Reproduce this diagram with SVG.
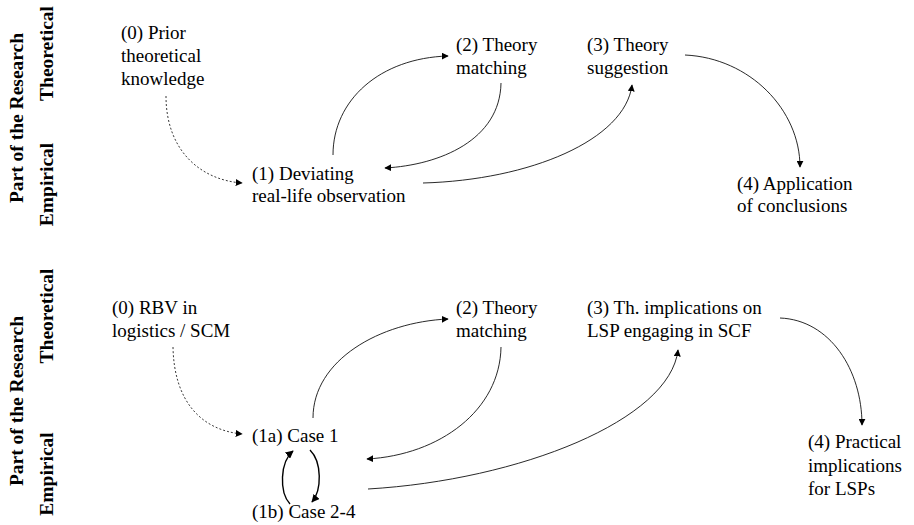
<svg xmlns="http://www.w3.org/2000/svg" width="914" height="525" viewBox="0 0 914 525">
<style>
.t{font-family:"Liberation Serif","Times New Roman",serif;font-size:19px;fill:#000}
.b{font-family:"Liberation Serif","Times New Roman",serif;font-size:19.5px;font-weight:bold;fill:#000}
.c{fill:none;stroke:#111;stroke-width:0.9}
.d{fill:none;stroke:#222;stroke-width:0.9;stroke-dasharray:2 2}
.k{fill:none;stroke:#000;stroke-width:1.4}
</style>
<defs>
<marker id="ah" viewBox="0 0 10 10" refX="9" refY="5" markerWidth="7" markerHeight="7" markerUnits="userSpaceOnUse" orient="auto">
<path d="M0,0 L10,5 L0,10 Z" fill="#000"/>
</marker>
<marker id="ah2" viewBox="0 0 10 10" refX="9" refY="5" markerWidth="8" markerHeight="8" markerUnits="userSpaceOnUse" orient="auto">
<path d="M0,0 L10,5 L0,10 Z" fill="#000"/>
</marker>
</defs>
<rect width="914" height="525" fill="#fff"/>
<g id="axis-top">
<text class="b" text-anchor="middle" transform="translate(23,118) rotate(-90)">Part of the Research</text>
<text class="b" text-anchor="middle" transform="translate(53,53.5) rotate(-90)">Theoretical</text>
<text class="b" text-anchor="middle" transform="translate(53,184.5) rotate(-90)">Empirical</text>
</g>
<g id="axis-bottom">
<text class="b" text-anchor="middle" transform="translate(23,401) rotate(-90)">Part of the Research</text>
<text class="b" text-anchor="middle" transform="translate(53,316) rotate(-90)">Theoretical</text>
<text class="b" text-anchor="middle" transform="translate(53,474) rotate(-90)">Empirical</text>
</g>
<g id="n0-top"><text class="t" x="121" y="39">(0) Prior<tspan x="121" y="62">theoretical</tspan><tspan x="121" y="85">knowledge</tspan></text></g>
<g id="n1-top"><text class="t" x="252" y="180">(1) Deviating<tspan x="252" y="202">real-life observation</tspan></text></g>
<g id="n2-top"><text class="t" x="456" y="51">(2) Theory<tspan x="456" y="74">matching</tspan></text></g>
<g id="n3-top"><text class="t" x="587" y="51">(3) Theory<tspan x="587" y="74">suggestion</tspan></text></g>
<g id="n4-top"><text class="t" x="737" y="190">(4) Application<tspan x="737" y="212">of conclusions</tspan></text></g>
<g id="n0-bot"><text class="t" x="112" y="314">(0) RBV in<tspan x="112" y="337">logistics / SCM</tspan></text></g>
<g id="n1a-bot"><text class="t" x="252" y="442">(1a) Case 1</text></g>
<g id="n1b-bot"><text class="t" x="252" y="518">(1b) Case 2-4</text></g>
<g id="n2-bot"><text class="t" x="456" y="314">(2) Theory<tspan x="456" y="337">matching</tspan></text></g>
<g id="n3-bot"><text class="t" x="587" y="314">(3) Th. implications on<tspan x="587" y="337">LSP engaging in SCF</tspan></text></g>
<g id="n4-bot"><text class="t" x="808" y="448">(4) Practical<tspan x="808" y="472">implications</tspan><tspan x="808" y="495">for LSPs</tspan></text></g>
<g id="connectors">
<path class="d" d="M166,96 C166,150 200,180 242,183" marker-end="url(#ah)"/>
<path class="c" d="M333,155 C333,100 380,58 448,56" marker-end="url(#ah)"/>
<path class="c" d="M501,83 C500,140 440,165 385,168" marker-end="url(#ah)"/>
<path class="c" d="M423,183 C530,180 625,140 632,85" marker-end="url(#ah)"/>
<path class="c" d="M685,55 C750,58 800,110 800,167" marker-end="url(#ah)"/>
<path class="d" d="M173,347 C174,400 200,430 242,434" marker-end="url(#ah)"/>
<path class="c" d="M313,418 C313,360 380,322 448,319" marker-end="url(#ah)"/>
<path class="c" d="M501,347 C500,410 440,455 367,459" marker-end="url(#ah)"/>
<path class="c" d="M368,489 C520,480 670,420 678,350" marker-end="url(#ah)"/>
<path class="c" d="M780,318 C830,320 862,370 862,425" marker-end="url(#ah)"/>
<path class="k" d="M290,504 C279,492 280,462 293,451" marker-end="url(#ah2)"/>
<path class="k" d="M310,450 C322,462 322,490 312,502" marker-end="url(#ah2)"/>
</g>
</svg>
